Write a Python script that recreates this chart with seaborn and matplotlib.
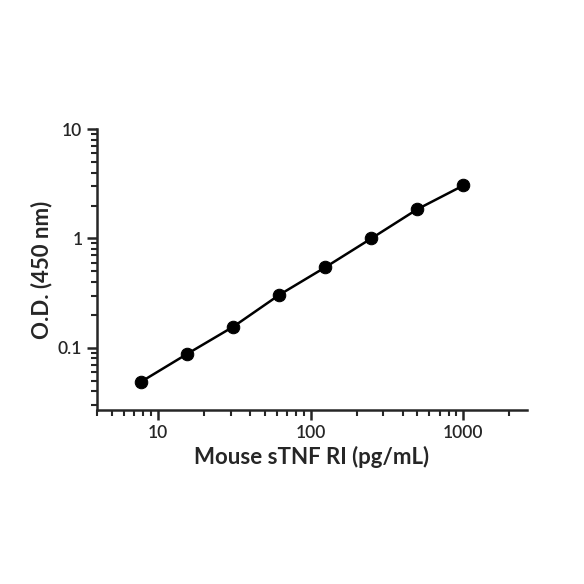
import matplotlib
matplotlib.use("Agg")
import matplotlib.pyplot as plt
import seaborn as sns
import pandas as pd
from matplotlib.ticker import LogLocator, FixedLocator, NullFormatter

conc = [7.8, 15.6, 31.25, 62.5, 125, 250, 500, 1000]
od = [0.049, 0.088, 0.156, 0.305, 0.545, 1.0, 1.85, 3.05]
df = pd.DataFrame({"conc": conc, "od": od})

sns.set_style("ticks")
plt.rcParams['font.family'] = ['Lato', 'DejaVu Sans']
fig = plt.figure(figsize=(5.84, 5.84), dpi=100)
ax = fig.add_axes([0.166, 0.298, 0.736, 0.481])
sns.lineplot(data=df, x="conc", y="od", ax=ax, color="black", lw=1.8,
             marker="o", markersize=9, markeredgecolor="black")
ax.set_xscale("log"); ax.set_yscale("log")
ax.set_xlim(4, 2600); ax.set_ylim(0.027, 10)
ax.xaxis.set_major_locator(FixedLocator([10, 100, 1000]))
ax.set_xticklabels(["10", "100", "1000"], fontweight="semibold")
ax.xaxis.set_minor_locator(LogLocator(base=10, subs=range(2, 10)))
ax.xaxis.set_minor_formatter(NullFormatter())
ax.yaxis.set_major_locator(FixedLocator([0.1, 1, 10]))
ax.set_yticklabels(["0.1", "1", "10"], fontweight="semibold")
ax.yaxis.set_minor_locator(LogLocator(base=10, subs=range(2, 10)))
ax.yaxis.set_minor_formatter(NullFormatter())
for s in ["left", "bottom"]:
    ax.spines[s].set_linewidth(1.8)
sns.despine(ax=ax)
ax.tick_params(which="major", width=1.8, length=7, labelsize=12.5)
ax.tick_params(which="minor", width=1.5, length=4)
ax.set_xlabel("Mouse sTNF RI (pg/mL)", fontsize=16, fontweight="bold")
ax.set_ylabel("O.D. (450 nm)", fontsize=16, fontweight="bold")
fig.savefig("out.png", dpi=100, facecolor="white")
